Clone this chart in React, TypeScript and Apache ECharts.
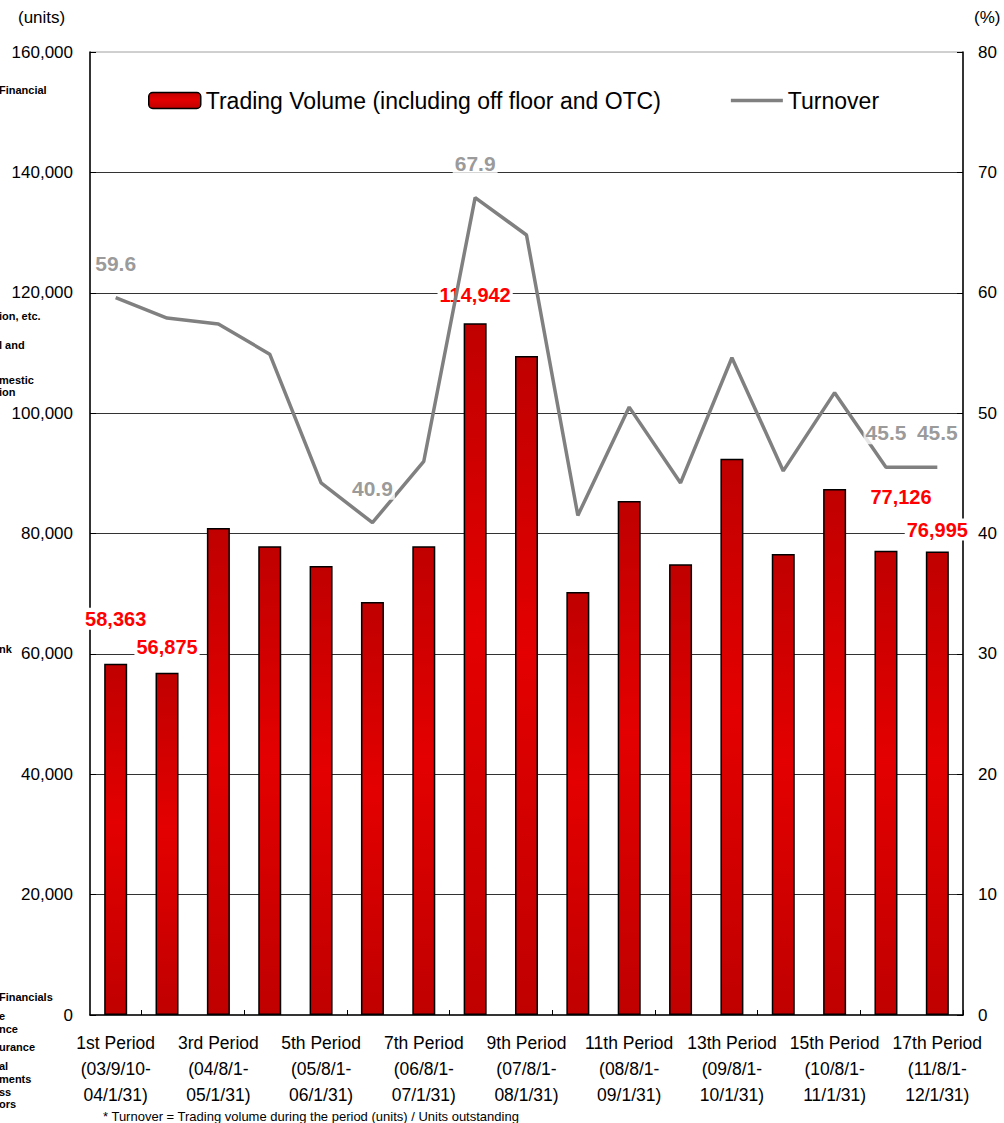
import React, { useEffect, useRef } from "react";
import * as echarts from "echarts";

const periods = [
  "1st Period", "2nd Period", "3rd Period", "4th Period", "5th Period", "6th Period",
  "7th Period", "8th Period", "9th Period", "10th Period", "11th Period", "12th Period",
  "13th Period", "14th Period", "15th Period", "16th Period", "17th Period",
];
const dateStart = [
  "(03/9/10-", "", "(04/8/1-", "", "(05/8/1-", "", "(06/8/1-", "", "(07/8/1-", "",
  "(08/8/1-", "", "(09/8/1-", "", "(10/8/1-", "", "(11/8/1-",
];
const dateEnd = [
  "04/1/31)", "", "05/1/31)", "", "06/1/31)", "", "07/1/31)", "", "08/1/31)", "",
  "09/1/31)", "", "10/1/31)", "", "11/1/31)", "", "12/1/31)",
];
const volume = [
  58363, 56875, 80900, 77900, 74600, 68600, 77900, 114942, 109500, 70300,
  85400, 74900, 92400, 76600, 87400, 77126, 76995,
];
const turnover = [
  59.6, 57.9, 57.4, 54.9, 44.2, 40.9, 46.0, 67.9, 64.8, 41.5,
  50.5, 44.2, 54.6, 45.2, 51.7, 45.5, 45.5,
];
const leftTicks = { min: 0, max: 160000, interval: 20000 };
const rightTicks = { min: 0, max: 80, interval: 10 };
const strayLabels = [
  ["Financial", 90], ["ion, etc.", 316], ["l and", 345], ["mestic", 380], ["ion", 392],
  ["nk", 649], ["Financials", 997], ["e", 1016], ["nce", 1029], ["urance", 1047],
  ["al", 1066], ["ments", 1079], ["ss", 1092], ["ors", 1104],
];

const FONT = "Liberation Sans, Arial, sans-serif";
const VOL_NAME = "Trading Volume (including off floor and OTC)";

const barLabelOffsets: Record<number, number[]> = {
  0: [0, -29], 1: [0, -10], 7: [0, -12], 15: [15, -38], 16: [0, -6],
};
const lineLabelIdx = [0, 5, 7, 15, 16];

export default function App() {
  const ref = useRef<HTMLDivElement>(null);
  useEffect(() => {
    if (!ref.current) return;
    const chart = echarts.init(ref.current, null, { renderer: "svg" });
    const barFill = new echarts.graphic.LinearGradient(0, 0, 0, 1, [
      { offset: 0, color: "#c00000" },
      { offset: 0.45, color: "#e40000" },
      { offset: 1, color: "#c00000" },
    ]);
    const barData = volume.map((v, i) => {
      const off = barLabelOffsets[i];
      if (!off) return v;
      return {
        value: v,
        label: {
          show: true,
          position: "top",
          offset: off,
          formatter: (p: any) => Number(p.value).toLocaleString("en-US"),
          color: "#ff0000",
          fontWeight: "bold",
          fontSize: 20,
          fontFamily: FONT,
          backgroundColor: "#ffffff",
          padding: [1, 2],
        },
      };
    });
    const labelData = turnover.map((v, i) => {
      if (!lineLabelIdx.includes(i)) return { value: v, label: { show: false } };
      return {
        value: v,
        label: {
          show: true,
          position: "top",
          offset: [0, -18],
          formatter: (p: any) => Number(p.value).toFixed(1),
          color: "#808080",
          fontWeight: "bold",
          fontSize: 21,
          fontFamily: FONT,
          backgroundColor: "#ffffff",
          padding: [1, 2],
        },
      };
    });
    const option: any = {
      animation: false,
      backgroundColor: "#ffffff",
      textStyle: { fontFamily: FONT },
      grid: {
        left: 90, right: 41, top: 52, bottom: 108,
        show: true, borderColor: "#a0a0a0", borderWidth: 1,
      },
      legend: {
        left: 143, top: 84, itemWidth: 52, itemGap: 70, itemHeight: 16,
        textStyle: { fontSize: 23, color: "#000", fontFamily: FONT },
        data: [
          { name: VOL_NAME, itemStyle: { color: barFill, borderColor: "#000", borderWidth: 1.5 } },
          { name: "Turnover", icon: "path://M0 0 H60 V4 H0 Z", itemStyle: { color: "#808080", borderWidth: 0 } },
        ],
      },
      xAxis: {
        type: "category",
        data: periods,
        axisLine: { lineStyle: { color: "#000", width: 1.5 } },
        axisTick: { show: true, inside: true, length: 5, interval: (i: number) => i % 2 === 1, lineStyle: { color: "#000" } },
        axisLabel: {
          interval: 1,
          margin: 15,
          fontSize: 17.5,
          lineHeight: 26,
          color: "#000",
          fontFamily: FONT,
          formatter: (v: string, i: number) => `${v}\n${dateStart[i]}\n${dateEnd[i]}`,
        },
      },
      yAxis: [
        {
          type: "value",
          min: leftTicks.min, max: leftTicks.max, interval: leftTicks.interval,
          axisLine: { show: true, lineStyle: { color: "#000", width: 1.5 } },
          axisTick: { show: true, inside: true, length: 6, lineStyle: { color: "#000" } },
          axisLabel: {
            margin: 17, fontSize: 17, color: "#000", fontFamily: FONT,
            formatter: (v: number) => v.toLocaleString("en-US"),
          },
          splitLine: { show: true, showMaxLine: false, showMinLine: false, lineStyle: { color: "#333", width: 1 } },
        },
        {
          type: "value",
          min: rightTicks.min, max: rightTicks.max, interval: rightTicks.interval,
          position: "right",
          axisLine: { show: true, lineStyle: { color: "#000", width: 1.5 } },
          axisTick: { show: true, inside: true, length: 6, lineStyle: { color: "#000" } },
          axisLabel: { margin: 15, fontSize: 17, color: "#000", fontFamily: FONT },
          splitLine: { show: false },
        },
      ],
      series: [
        {
          name: VOL_NAME,
          type: "bar",
          yAxisIndex: 0,
          barWidth: 23,
          data: barData,
          itemStyle: { color: barFill, borderColor: "#000", borderWidth: 1.5 },
          z: 2,
        },
        {
          name: "Turnover",
          type: "line",
          yAxisIndex: 1,
          data: turnover,
          symbol: "none",
          lineStyle: { color: "#808080", width: 3.5 },
          itemStyle: { color: "#808080" },
          z: 3,
        },
        {
          name: "Turnover labels",
          type: "scatter",
          yAxisIndex: 1,
          data: labelData,
          symbolSize: 0,
          itemStyle: { color: "#808080" },
          z: 4,
        },
      ],
      graphic: [
        { type: "text", left: 18, top: 9, style: { text: "(units)", font: `17px ${FONT}`, fill: "#000" } },
        { type: "text", left: 974, top: 9, style: { text: "(%)", font: `17px ${FONT}`, fill: "#000" } },
        {
          type: "text", left: 103, top: 1110,
          style: { text: "* Turnover = Trading volume during the period (units) / Units outstanding", font: `13px ${FONT}`, fill: "#000" },
        },
        ...strayLabels.map(([t, y]) => ({
          type: "text", x: -1, y: (y as number) - 6,
          style: { text: t as string, font: `bold 11px ${FONT}`, fill: "#000" },
        })),
      ],
    };
    chart.setOption(option);
    return () => chart.dispose();
  }, []);
  return <div ref={ref} style={{ position: "absolute", left: 0, top: 0, width: 1004, height: 1123 }} />;
}
